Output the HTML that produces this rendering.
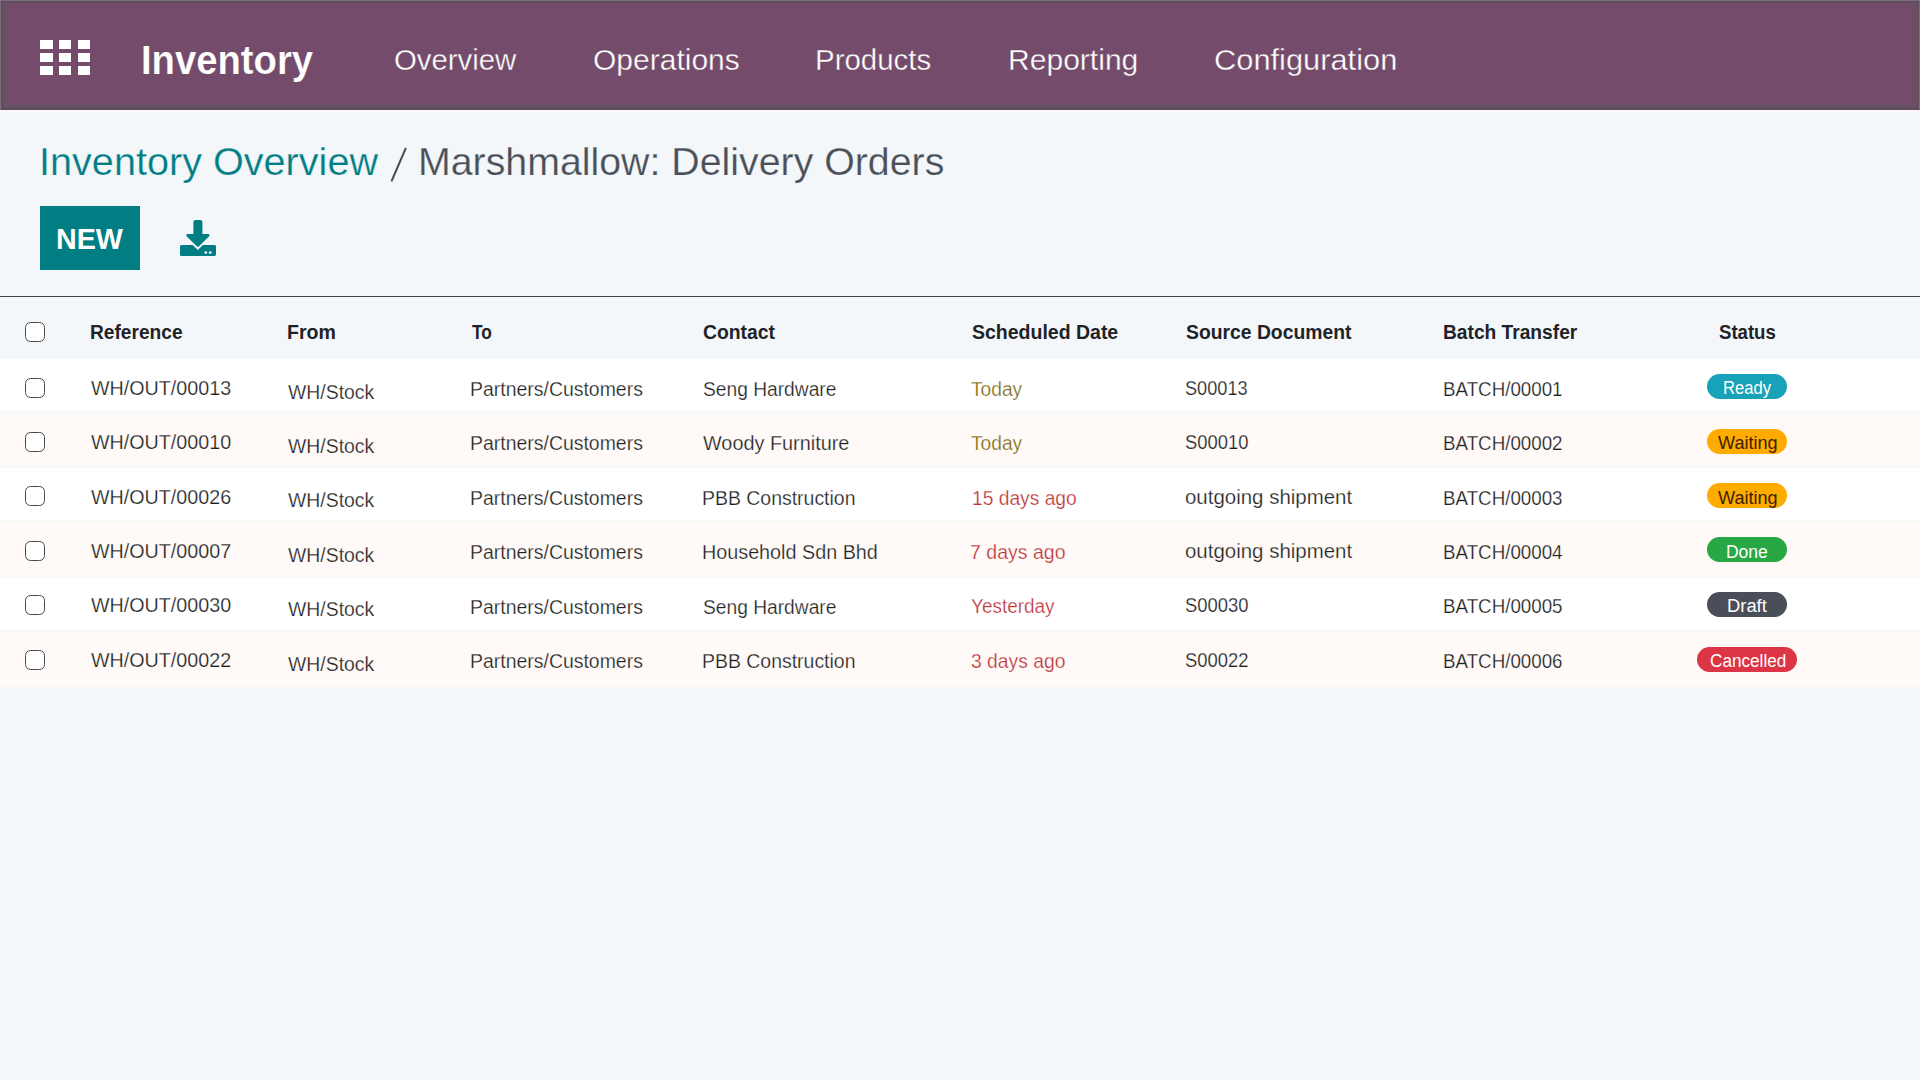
<!DOCTYPE html>
<html><head><meta charset="utf-8"><title>Inventory</title>
<style>
*{margin:0;padding:0;box-sizing:border-box}
html,body{width:1920px;height:1080px;overflow:hidden;background:#f3f7fa;font-family:"Liberation Sans",sans-serif}
.nav{position:absolute;left:0;top:0;width:1920px;height:110px;background:#744b6a}
.nb{position:absolute}
.sq{position:absolute;width:12.5px;height:9px;background:#fff}
span{position:absolute;white-space:nowrap;transform-origin:0 0}
.btn{position:absolute;left:40px;top:206px;width:100px;height:64px;background:#017e84}
.hline{position:absolute;left:0;top:296px;width:1920px;height:1px;background:#3f444a}
.row{position:absolute;left:0;width:1920px}
.cb{position:absolute;width:20px;height:20px;border:1.15px solid #4a4a4a;border-radius:5.5px;background:#fff}
.badge{position:absolute;height:24.8px;border-radius:12.4px}
.dl{position:absolute}
.sep{position:absolute;left:0;width:1920px;height:3px;background:#f9f9f9}
.slash{position:absolute;left:388px;top:146px}
</style></head><body>
<div class="nav"></div>
<div class="nb" style="left:0;top:104px;width:1920px;height:6px;background:linear-gradient(#6f5068,#5f4e5c 70%,#5e4e5b)"></div>
<div class="nb" style="left:0;top:110px;width:1920px;height:1.5px;background:#fcf6fc"></div>
<div class="nb" style="left:0;top:0;width:1920px;height:1px;background:#7f6c80"></div>
<div class="nb" style="left:0;top:1px;width:1920px;height:2px;background:#614f60"></div>
<div class="nb" style="left:0;top:0;width:1px;height:110px;background:#7f6c80"></div>
<div class="nb" style="left:1px;top:1px;width:2px;height:109px;background:#614f60"></div>
<div class="nb" style="left:3px;top:3px;width:5px;height:104px;background:#6d5068"></div>
<div class="nb" style="left:1919px;top:0;width:1px;height:110px;background:#7f6c80"></div>
<div class="nb" style="left:1912px;top:3px;width:7px;height:104px;background:linear-gradient(90deg,#704e69,#644f61)"></div>
<div class="sq" style="left:40px;top:40px"></div><div class="sq" style="left:58.8px;top:40px"></div><div class="sq" style="left:77.6px;top:40px"></div><div class="sq" style="left:40px;top:53px"></div><div class="sq" style="left:58.8px;top:53px"></div><div class="sq" style="left:77.6px;top:53px"></div><div class="sq" style="left:40px;top:66px"></div><div class="sq" style="left:58.8px;top:66px"></div><div class="sq" style="left:77.6px;top:66px"></div>
<div class="btn"></div>
<svg class="dl" width="40" height="40" viewBox="176 216 40 40" style="left:176px;top:216px">
<path fill="#017e84" d="M195.6,220 h4.8 a2,2 0 0 1 2,2 v12.1 h5.9 a1.2,1.2 0 0 1 0.85,2.05 l-10.4,10.4 a1.2,1.2 0 0 1 -1.7,0 l-10.4,-10.4 a1.2,1.2 0 0 1 0.85,-2.05 h5.9 v-12.1 a2,2 0 0 1 2,-2 z"/>
<path fill="#017e84" d="M181.5,245 h11.2 l5.1,5.1 l5.1,-5.1 h11.6 a1.5,1.5 0 0 1 1.5,1.5 v8 a1.5,1.5 0 0 1 -1.5,1.5 h-33 a1.5,1.5 0 0 1 -1.5,-1.5 v-8 a1.5,1.5 0 0 1 1.5,-1.5 z"/>
<circle cx="205.8" cy="252.6" r="1.4" fill="#f3f7fa"/><circle cx="210.2" cy="252.6" r="1.4" fill="#f3f7fa"/>
</svg>
<svg class="slash" width="22" height="38" viewBox="388 146 22 38"><line x1="405.6" y1="148.6" x2="391.8" y2="180.6" stroke="#4a4f57" stroke-width="2.1" stroke-linecap="round"/></svg>
<div class="hline"></div>
<div class="sep" style="top:356.5px;height:1.5px;background:#f1f1f4"></div>
<div class="row" style="top:358.0px;height:54.5px;background:#ffffff"></div><div class="row" style="top:412.4px;height:54.5px;background:#fffaf7"></div><div class="sep" style="top:410.9px"></div><div class="row" style="top:466.8px;height:54.5px;background:#ffffff"></div><div class="sep" style="top:465.3px"></div><div class="row" style="top:521.2px;height:54.5px;background:#fffaf7"></div><div class="sep" style="top:519.7px"></div><div class="row" style="top:575.6px;height:54.5px;background:#ffffff"></div><div class="sep" style="top:574.1px"></div><div class="row" style="top:630.0px;height:56.8px;background:#fffaf7"></div><div class="sep" style="top:628.5px"></div>
<div class="cb" style="left:25px;top:322px"></div><div class="cb" style="left:25px;top:377.5px"></div><div class="cb" style="left:25px;top:431.9px"></div><div class="cb" style="left:25px;top:486.3px"></div><div class="cb" style="left:25px;top:540.7px"></div><div class="cb" style="left:25px;top:595.1px"></div><div class="cb" style="left:25px;top:649.5px"></div>
<div class="badge" style="left:1707.3px;top:374.0px;width:79.4px;background:#17a2b8"></div><div class="badge" style="left:1707.3px;top:429.0px;width:79.4px;background:#ffab00"></div><div class="badge" style="left:1707.3px;top:483.4px;width:79.4px;background:#ffab00"></div><div class="badge" style="left:1707.2px;top:537.2px;width:79.5px;background:#28a745"></div><div class="badge" style="left:1707.2px;top:592.0px;width:79.5px;background:#4a4e59"></div><div class="badge" style="left:1697.2px;top:647.0px;width:99.4px;background:#dc3545"></div>
<span style="left:141.09px;top:39.88px;font-size:40px;line-height:40px;font-weight:bold;color:#ffffff;transform:scaleX(0.9559);-webkit-text-stroke:0.2px #744b6a">Inventory</span><span style="left:393.62px;top:44.80px;font-size:30px;line-height:30px;font-weight:normal;color:#ffffff;transform:scaleX(0.9782);-webkit-text-stroke:0.35px #744b6a">Overview</span><span style="left:592.60px;top:44.80px;font-size:30px;line-height:30px;font-weight:normal;color:#ffffff;transform:scaleX(1.0004);-webkit-text-stroke:0.35px #744b6a">Operations</span><span style="left:814.74px;top:44.80px;font-size:30px;line-height:30px;font-weight:normal;color:#ffffff;transform:scaleX(0.9819);-webkit-text-stroke:0.35px #744b6a">Products</span><span style="left:1007.60px;top:44.80px;font-size:30px;line-height:30px;font-weight:normal;color:#ffffff;transform:scaleX(1.0020);-webkit-text-stroke:0.35px #744b6a">Reporting</span><span style="left:1213.77px;top:44.80px;font-size:30px;line-height:30px;font-weight:normal;color:#ffffff;transform:scaleX(1.0270);-webkit-text-stroke:0.35px #744b6a">Configuration</span><span style="left:39.49px;top:142.16px;font-size:39.5px;line-height:39.5px;font-weight:normal;color:#017e84;transform:scaleX(1.0029);-webkit-text-stroke:0.25px #f3f7fa">Inventory Overview</span><span style="left:417.91px;top:142.16px;font-size:39.5px;line-height:39.5px;font-weight:normal;color:#4a4f57;transform:scaleX(0.9950);-webkit-text-stroke:0.25px #f3f7fa">Marshmallow: Delivery Orders</span><span style="left:55.99px;top:224.30px;font-size:30px;line-height:30px;font-weight:bold;color:#ffffff;transform:scaleX(0.9552)">NEW</span><span style="left:89.94px;top:321.87px;font-size:20px;line-height:20px;font-weight:bold;color:#1f2328;transform:scaleX(0.9572)">Reference</span><span style="left:286.92px;top:321.87px;font-size:20px;line-height:20px;font-weight:bold;color:#1f2328;transform:scaleX(0.9768)">From</span><span style="left:471.70px;top:321.87px;font-size:20px;line-height:20px;font-weight:bold;color:#1f2328;transform:scaleX(0.8666)">To</span><span style="left:702.60px;top:321.87px;font-size:20px;line-height:20px;font-weight:bold;color:#1f2328;transform:scaleX(0.9668)">Contact</span><span style="left:971.60px;top:321.87px;font-size:20px;line-height:20px;font-weight:bold;color:#1f2328;transform:scaleX(0.9745)">Scheduled Date</span><span style="left:1185.70px;top:321.87px;font-size:20px;line-height:20px;font-weight:bold;color:#1f2328;transform:scaleX(0.9663)">Source Document</span><span style="left:1443.04px;top:321.87px;font-size:20px;line-height:20px;font-weight:bold;color:#1f2328;transform:scaleX(0.9586)">Batch Transfer</span><span style="left:1718.60px;top:321.87px;font-size:20px;line-height:20px;font-weight:bold;color:#1f2328;transform:scaleX(0.9295)">Status</span><span style="left:90.80px;top:377.87px;font-size:20px;line-height:20px;font-weight:normal;color:#202020;transform:scaleX(0.9849);-webkit-text-stroke:0.25px #ffffff">WH/OUT/00013</span><span style="left:287.50px;top:381.67px;font-size:20px;line-height:20px;font-weight:normal;color:#202020;transform:scaleX(0.9700);-webkit-text-stroke:0.25px #ffffff">WH/Stock</span><span style="left:469.83px;top:379.07px;font-size:20px;line-height:20px;font-weight:normal;color:#202020;transform:scaleX(0.9721);-webkit-text-stroke:0.25px #ffffff">Partners/Customers</span><span style="left:702.70px;top:379.07px;font-size:20px;line-height:20px;font-weight:normal;color:#202020;transform:scaleX(0.9601);-webkit-text-stroke:0.25px #ffffff">Seng Hardware</span><span style="left:971.40px;top:378.77px;font-size:20px;line-height:20px;font-weight:normal;color:#7d6b10;transform:scaleX(0.9594);-webkit-text-stroke:0.25px #ffffff">Today</span><span style="left:1184.70px;top:377.77px;font-size:20px;line-height:20px;font-weight:normal;color:#202020;transform:scaleX(0.9080);-webkit-text-stroke:0.25px #ffffff">S00013</span><span style="left:1443.06px;top:378.87px;font-size:20px;line-height:20px;font-weight:normal;color:#202020;transform:scaleX(0.9379);-webkit-text-stroke:0.25px #ffffff">BATCH/00001</span><span style="left:90.80px;top:432.27px;font-size:20px;line-height:20px;font-weight:normal;color:#202020;transform:scaleX(0.9849);-webkit-text-stroke:0.25px #fffaf7">WH/OUT/00010</span><span style="left:287.50px;top:436.07px;font-size:20px;line-height:20px;font-weight:normal;color:#202020;transform:scaleX(0.9700);-webkit-text-stroke:0.25px #fffaf7">WH/Stock</span><span style="left:469.83px;top:433.47px;font-size:20px;line-height:20px;font-weight:normal;color:#202020;transform:scaleX(0.9721);-webkit-text-stroke:0.25px #fffaf7">Partners/Customers</span><span style="left:702.70px;top:433.47px;font-size:20px;line-height:20px;font-weight:normal;color:#202020;transform:scaleX(0.9922);-webkit-text-stroke:0.25px #fffaf7">Woody Furniture</span><span style="left:971.40px;top:433.17px;font-size:20px;line-height:20px;font-weight:normal;color:#7d6b10;transform:scaleX(0.9594);-webkit-text-stroke:0.25px #fffaf7">Today</span><span style="left:1184.70px;top:432.17px;font-size:20px;line-height:20px;font-weight:normal;color:#202020;transform:scaleX(0.9196);-webkit-text-stroke:0.25px #fffaf7">S00010</span><span style="left:1443.06px;top:433.27px;font-size:20px;line-height:20px;font-weight:normal;color:#202020;transform:scaleX(0.9379);-webkit-text-stroke:0.25px #fffaf7">BATCH/00002</span><span style="left:90.80px;top:486.67px;font-size:20px;line-height:20px;font-weight:normal;color:#202020;transform:scaleX(0.9849);-webkit-text-stroke:0.25px #ffffff">WH/OUT/00026</span><span style="left:287.50px;top:490.47px;font-size:20px;line-height:20px;font-weight:normal;color:#202020;transform:scaleX(0.9700);-webkit-text-stroke:0.25px #ffffff">WH/Stock</span><span style="left:469.83px;top:487.87px;font-size:20px;line-height:20px;font-weight:normal;color:#202020;transform:scaleX(0.9721);-webkit-text-stroke:0.25px #ffffff">Partners/Customers</span><span style="left:701.73px;top:487.87px;font-size:20px;line-height:20px;font-weight:normal;color:#202020;transform:scaleX(0.9722);-webkit-text-stroke:0.25px #ffffff">PBB Construction</span><span style="left:971.94px;top:487.57px;font-size:20px;line-height:20px;font-weight:normal;color:#bd3438;transform:scaleX(0.9606);-webkit-text-stroke:0.25px #ffffff">15 days ago</span><span style="left:1184.70px;top:486.57px;font-size:20px;line-height:20px;font-weight:normal;color:#202020;transform:scaleX(1.0226);-webkit-text-stroke:0.25px #ffffff">outgoing shipment</span><span style="left:1443.06px;top:487.67px;font-size:20px;line-height:20px;font-weight:normal;color:#202020;transform:scaleX(0.9379);-webkit-text-stroke:0.25px #ffffff">BATCH/00003</span><span style="left:90.80px;top:541.07px;font-size:20px;line-height:20px;font-weight:normal;color:#202020;transform:scaleX(0.9849);-webkit-text-stroke:0.25px #fffaf7">WH/OUT/00007</span><span style="left:287.50px;top:544.87px;font-size:20px;line-height:20px;font-weight:normal;color:#202020;transform:scaleX(0.9700);-webkit-text-stroke:0.25px #fffaf7">WH/Stock</span><span style="left:469.83px;top:542.27px;font-size:20px;line-height:20px;font-weight:normal;color:#202020;transform:scaleX(0.9721);-webkit-text-stroke:0.25px #fffaf7">Partners/Customers</span><span style="left:701.71px;top:542.27px;font-size:20px;line-height:20px;font-weight:normal;color:#202020;transform:scaleX(0.9881);-webkit-text-stroke:0.25px #fffaf7">Household Sdn Bhd</span><span style="left:970.42px;top:541.97px;font-size:20px;line-height:20px;font-weight:normal;color:#bd3438;transform:scaleX(0.9759);-webkit-text-stroke:0.25px #fffaf7">7 days ago</span><span style="left:1184.70px;top:540.97px;font-size:20px;line-height:20px;font-weight:normal;color:#202020;transform:scaleX(1.0226);-webkit-text-stroke:0.25px #fffaf7">outgoing shipment</span><span style="left:1443.06px;top:542.07px;font-size:20px;line-height:20px;font-weight:normal;color:#202020;transform:scaleX(0.9379);-webkit-text-stroke:0.25px #fffaf7">BATCH/00004</span><span style="left:90.80px;top:595.47px;font-size:20px;line-height:20px;font-weight:normal;color:#202020;transform:scaleX(0.9849);-webkit-text-stroke:0.25px #ffffff">WH/OUT/00030</span><span style="left:287.50px;top:599.27px;font-size:20px;line-height:20px;font-weight:normal;color:#202020;transform:scaleX(0.9700);-webkit-text-stroke:0.25px #ffffff">WH/Stock</span><span style="left:469.83px;top:596.67px;font-size:20px;line-height:20px;font-weight:normal;color:#202020;transform:scaleX(0.9721);-webkit-text-stroke:0.25px #ffffff">Partners/Customers</span><span style="left:702.70px;top:596.67px;font-size:20px;line-height:20px;font-weight:normal;color:#202020;transform:scaleX(0.9601);-webkit-text-stroke:0.25px #ffffff">Seng Hardware</span><span style="left:971.40px;top:596.37px;font-size:20px;line-height:20px;font-weight:normal;color:#bd3438;transform:scaleX(0.9477);-webkit-text-stroke:0.25px #ffffff">Yesterday</span><span style="left:1184.70px;top:595.37px;font-size:20px;line-height:20px;font-weight:normal;color:#202020;transform:scaleX(0.9196);-webkit-text-stroke:0.25px #ffffff">S00030</span><span style="left:1443.06px;top:596.47px;font-size:20px;line-height:20px;font-weight:normal;color:#202020;transform:scaleX(0.9379);-webkit-text-stroke:0.25px #ffffff">BATCH/00005</span><span style="left:90.80px;top:649.87px;font-size:20px;line-height:20px;font-weight:normal;color:#202020;transform:scaleX(0.9849);-webkit-text-stroke:0.25px #fffaf7">WH/OUT/00022</span><span style="left:287.50px;top:653.67px;font-size:20px;line-height:20px;font-weight:normal;color:#202020;transform:scaleX(0.9700);-webkit-text-stroke:0.25px #fffaf7">WH/Stock</span><span style="left:469.83px;top:651.07px;font-size:20px;line-height:20px;font-weight:normal;color:#202020;transform:scaleX(0.9721);-webkit-text-stroke:0.25px #fffaf7">Partners/Customers</span><span style="left:701.73px;top:651.07px;font-size:20px;line-height:20px;font-weight:normal;color:#202020;transform:scaleX(0.9722);-webkit-text-stroke:0.25px #fffaf7">PBB Construction</span><span style="left:971.40px;top:650.77px;font-size:20px;line-height:20px;font-weight:normal;color:#bd3438;transform:scaleX(0.9659);-webkit-text-stroke:0.25px #fffaf7">3 days ago</span><span style="left:1184.70px;top:649.77px;font-size:20px;line-height:20px;font-weight:normal;color:#202020;transform:scaleX(0.9196);-webkit-text-stroke:0.25px #fffaf7">S00022</span><span style="left:1443.06px;top:650.87px;font-size:20px;line-height:20px;font-weight:normal;color:#202020;transform:scaleX(0.9379);-webkit-text-stroke:0.25px #fffaf7">BATCH/00006</span><span style="left:1722.78px;top:379.06px;font-size:18px;line-height:18px;font-weight:normal;color:#ffffff;transform:scaleX(0.9230)">Ready</span><span style="left:1717.70px;top:434.16px;font-size:18px;line-height:18px;font-weight:normal;color:#3b2300;transform:scaleX(1.0044)">Waiting</span><span style="left:1717.70px;top:488.66px;font-size:18px;line-height:18px;font-weight:normal;color:#3b2300;transform:scaleX(1.0044)">Waiting</span><span style="left:1726.13px;top:542.76px;font-size:18px;line-height:18px;font-weight:normal;color:#ffffff;transform:scaleX(0.9710)">Done</span><span style="left:1726.88px;top:596.96px;font-size:18px;line-height:18px;font-weight:normal;color:#ffffff;transform:scaleX(1.0209)">Draft</span><span style="left:1710.00px;top:652.16px;font-size:18px;line-height:18px;font-weight:normal;color:#ffffff;transform:scaleX(0.9527)">Cancelled</span>
</body></html>
